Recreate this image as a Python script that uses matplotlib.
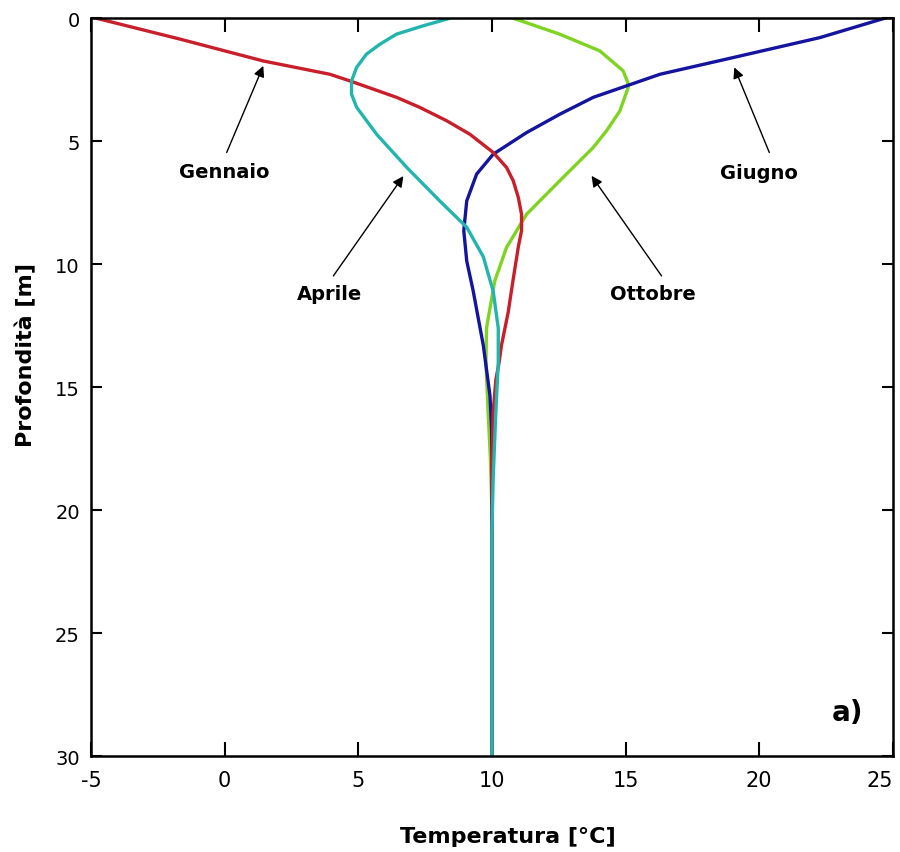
import numpy as np
import matplotlib
matplotlib.use("Agg")
import matplotlib.pyplot as plt

plt.rcParams["axes.unicode_minus"] = False

# depth [m] / temperature [degC]
z_gen = [0, 0.85, 1.74, 2.28, 2.55, 3.22, 3.63, 4.17, 4.72, 5.46, 6.07, 6.61, 7.29, 7.97, 8.64,
         9.3, 10.6, 11.96, 13.3, 14.0, 14.7, 16.0, 18.0, 21.0, 30.0]
t_gen = [-4.8, -1.67, 1.45, 3.94, 4.69, 6.44, 7.31, 8.31, 9.18, 10.05, 10.55, 10.8, 10.99, 11.11, 11.11,
         10.99, 10.8, 10.61, 10.36, 10.27, 10.15, 10.05, 10.0, 10.0, 10.0]

z_giu = [0, 0.79, 1.6, 2.28, 2.75, 3.22, 3.9, 4.65, 5.53, 6.34, 7.43, 8.64, 9.87, 11.08, 13.3,
         15.35, 16.7, 18.0, 30.0]
t_giu = [24.7, 22.27, 19.03, 16.29, 15.04, 13.79, 12.55, 11.3, 10.05, 9.43, 9.06, 8.95, 9.06, 9.3, 9.68,
         9.93, 9.99, 10.0, 10.0]

z_ott = [0, 0.65, 1.33, 2.14, 2.6, 2.82, 3.77, 4.58, 5.26, 6.61, 7.97, 9.32, 10.68, 12.6, 14.0,
         16.0, 18.0, 20.0, 30.0]
t_ott = [10.8, 12.54, 14.04, 14.91, 15.08, 15.1, 14.79, 14.29, 13.79, 12.54, 11.3, 10.55, 10.11, 9.8, 9.78,
         9.86, 9.95, 10.0, 10.0]

z_apr = [0, 0.15, 0.31, 0.65, 1.06, 1.46, 2.0, 2.55, 3.09, 3.62, 4.72, 6.06, 7.44, 8.5, 9.7, 11.1,
         12.6, 14.0, 16.0, 18.7, 21.0, 30.0]
t_apr = [8.43, 7.95, 7.43, 6.43, 5.81, 5.31, 4.94, 4.75, 4.75, 4.94, 5.69, 6.81, 8.06, 9.06, 9.68, 10.05,
         10.24, 10.24, 10.15, 10.05, 10.0, 10.0]

fig = plt.figure(figsize=(9, 8.53), dpi=100)
ax = fig.add_axes([0.101, 0.1125, 0.891, 0.865])

ax.plot(t_ott, z_ott, color="#7fd321", lw=2.4)
ax.plot(t_giu, z_giu, color="#14149e", lw=2.4)
ax.plot(t_gen, z_gen, color="#c81f2b", lw=2.4)
ax.plot(t_apr, z_apr, color="#22b5ad", lw=2.4)

# labels with arrows
arrow = dict(arrowstyle="-|>", color="black", lw=1.0, mutation_scale=16, shrinkA=0, shrinkB=0)
ax.annotate("", xy=(1.45, 1.94), xytext=(0.08, 5.46), arrowprops=arrow)
ax.annotate("", xy=(6.69, 6.42), xytext=(4.07, 10.48), arrowprops=arrow)
ax.annotate("", xy=(13.73, 6.41), xytext=(16.35, 10.48), arrowprops=arrow)
ax.annotate("", xy=(19.07, 2.0), xytext=(20.38, 5.46), arrowprops=arrow)
ax.text(0.0, 6.22, "Gennaio", ha="center", va="center", fontsize=14, fontweight="bold")
ax.text(3.94, 11.2, "Aprile", ha="center", va="center", fontsize=14, fontweight="bold")
ax.text(16.04, 11.2, "Ottobre", ha="center", va="center", fontsize=14, fontweight="bold")
ax.text(20.0, 6.27, "Giugno", ha="center", va="center", fontsize=14, fontweight="bold")
ax.text(23.3, 28.2, "a)", ha="center", va="center", fontsize=20, fontweight="bold")

ax.set_xlim(-5, 25)
ax.set_ylim(30, 0)
ax.set_xticks([-5, 0, 5, 10, 15, 20, 25])
ax.set_yticks([0, 5, 10, 15, 20, 25, 30])
ax.tick_params(axis="x", direction="in", length=10, width=1.5, top=True, labelsize=15, pad=10)
ax.tick_params(axis="y", direction="in", length=8, width=1.5, right=True, labelsize=14, pad=8)
ax.get_xticklabels()[-1].set_horizontalalignment("right")
ax.get_xticklabels()[-1].set_x(25.3)
for s in ax.spines.values():
    s.set_linewidth(1.8)

ax.set_xlabel("Temperatura [°C]", fontsize=16, fontweight="bold")
ax.set_ylabel("Profondità [m]", fontsize=16, fontweight="bold")
ax.xaxis.set_label_coords(0.52, -0.095)
ax.yaxis.set_label_coords(-0.068, 0.545)

fig.savefig("out.png", dpi=100)
